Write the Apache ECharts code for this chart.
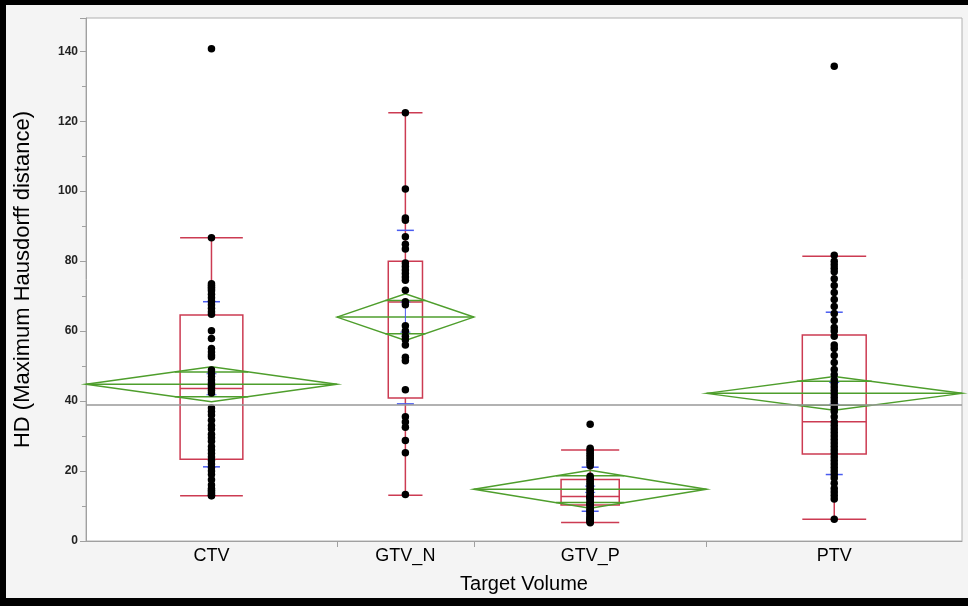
<!DOCTYPE html>
<html>
<head>
<meta charset="utf-8">
<script src="https://cdn.jsdelivr.net/npm/echarts@6/dist/echarts.min.js"></script>
<style>
  html, body { margin: 0; padding: 0; background: #f4f4f4; }
  #main { position: absolute; left: 0; top: 0; width: 968px; height: 606px; }
  #frame { position: absolute; left: 0; top: 0; width: 968px; height: 606px; box-sizing: border-box;
           border-left: 6px solid #000; border-top: 5px solid #000; border-bottom: 8px solid #000; pointer-events: none; }
</style>
</head>
<body>
<div id="main"></div>
<div id="frame"></div>
<script>
// groups (x axis width is proportional to group size, as JMP draws it)
var groups = ['CTV', 'GTV_N', 'GTV_P', 'PTV'];
var counts = [55, 30, 51, 56];

// raw points per group
var ctvValues = [140.7, 86.7, 73.5, 73, 72.5, 72, 71.5, 70.5, 69.5, 68.5, 67.5, 66.5, 65.5, 64.8, 60.1, 57.9,
  55, 54, 53.2, 52.6, 48.9, 48, 47, 46, 45.2, 44.5, 43.8, 43, 42.3, 38, 37, 36, 34.5, 33, 32, 30.5, 29.5,
  28.5, 27, 26, 25, 24, 23, 22, 21, 20, 19, 17.5, 16, 15, 14.5, 14, 13.5, 13, 12.9];
var gtvNValues = [122.4, 100.6, 92.3, 91.7, 87, 84.8, 83.5, 79.5, 78.5, 77.5, 76.5, 75.5, 74.5, 71.7, 68.4,
  67.5, 61.5, 60, 58.5, 57.5, 56, 52.5, 51.5, 43.2, 35.5, 34, 32.5, 28.7, 25.2, 13.3];
var gtvPValues = [33.4, 26.5, 26, 25.5, 25, 24.5, 24, 23.5, 23, 22.5, 22, 21.5, 18.5, 18, 17.5, 17, 16.5, 16,
  15.5, 15, 14.5, 14, 13.5, 13, 12.8, 12.6, 12.4, 12.2, 12, 11.5, 11, 10.8, 10.5, 10.3, 10, 9.5, 9, 8.8, 8.5,
  8, 7.8, 7.5, 7, 6.8, 6.5, 6.2, 6, 5.8, 5.6, 5.4, 5.2];
var ptvValues = [135.7, 81.7, 80, 79, 78, 77, 75, 73, 71, 69, 67, 65, 63, 61, 60, 58.5, 56, 55, 53, 51, 49,
  47.5, 46, 45, 44, 43, 42, 41, 40, 39, 38, 37, 35.5, 34, 33, 32, 31, 30, 29, 28, 27, 26, 25, 24, 23, 22, 21,
  20, 19, 18, 16.5, 15, 14, 13, 12, 6.2];
var groupValues = [ctvValues, gtvNValues, gtvPValues, ptvValues];

// summary stats
var boxStats = [           // [lower whisker, Q1, median, Q3, upper whisker]
  [12.9, 23.4, 43.6, 64.6, 86.7],
  [13.1, 40.9, 68.3, 80.0, 122.4],
  [5.3, 10.3, 12.7, 17.6, 26.0],
  [6.2, 24.9, 34.1, 58.9, 81.4]
];
var means = [44.8, 64.0, 14.8, 42.2];
var ciHalf = [5.0, 6.7, 5.4, 4.85];   // means diamond half height
var sdHalf = [23.6, 24.8, 6.3, 23.2];  // std dev lines
var seHalf = [3.0, 4.3, 0.9, 3.1];     // mean error bars
var grandMean = 38.9;
var yTicks = [0, 20, 40, 60, 80, 100, 120, 140];

// x positions from group sizes
var total = 0, starts = [], ends = [], centers = [];
counts.forEach(function (n) {
  starts.push(total);
  total += n;
  ends.push(total);
  centers.push(total - n / 2);
});

var statData = groups.map(function (g, i) {
  return [starts[i], ends[i], means[i], ciHalf[i], sdHalf[i], seHalf[i]].concat(boxStats[i]);
});

var dots = [];
groupValues.forEach(function (vals, i) {
  vals.forEach(function (v) { dots.push([centers[i], v]); });
});

var red = '#cc3b52', green = '#4e9e2c', blue = '#4a5cf0';

function line(x1, y1, x2, y2, color, w) {
  return { type: 'line', shape: { x1: x1, y1: y1, x2: x2, y2: y2 },
           style: { stroke: color, lineWidth: w || 1.5 } };
}

function renderStats(params, api) {
  var s = api.value(0), e = api.value(1), m = api.value(2), ci = api.value(3);
  var sd = api.value(4), se = api.value(5);
  var lo = api.value(6), q1 = api.value(7), med = api.value(8), q3 = api.value(9), hi = api.value(10);
  var c = (s + e) / 2;
  var L = api.coord([s, m]), R = api.coord([e, m]);
  var cx = api.coord([c, m])[0];
  var y = function (v) { return api.coord([c, v])[1]; };
  var w = R[0] - L[0];
  var bh = w / 8;
  var kids = [];
  // box plot
  kids.push({ type: 'rect', shape: { x: cx - bh, y: y(q3), width: 2 * bh, height: y(q1) - y(q3) },
              style: { fill: 'none', stroke: red, lineWidth: 1.5 } });
  kids.push(line(cx - bh, y(med), cx + bh, y(med), red));
  kids.push(line(cx, y(hi), cx, y(q3), red));
  kids.push(line(cx, y(q1), cx, y(lo), red));
  kids.push(line(cx - bh, y(hi), cx + bh, y(hi), red));
  kids.push(line(cx - bh, y(lo), cx + bh, y(lo), red));
  // means diamond
  kids.push({ type: 'polygon',
              shape: { points: [[L[0], L[1]], [cx, y(m + ci)], [R[0], R[1]], [cx, y(m - ci)]] },
              style: { fill: 'none', stroke: green, lineWidth: 1.5 } });
  kids.push(line(L[0], L[1], R[0], R[1], green));
  var k = Math.SQRT1_2, ow = (w / 2) * (1 - k);
  kids.push(line(cx - ow, y(m + ci * k), cx + ow, y(m + ci * k), green));
  kids.push(line(cx - ow, y(m - ci * k), cx + ow, y(m - ci * k), green));
  // std dev lines and mean error bars
  kids.push(line(cx - 8.5, y(m + sd), cx + 8.5, y(m + sd), blue));
  kids.push(line(cx - 8.5, y(m - sd), cx + 8.5, y(m - sd), blue));
  kids.push(line(cx, y(m + se), cx, y(m - se), blue, 1));
  kids.push(line(cx - 5, y(m + se), cx + 5, y(m + se), blue, 1));
  kids.push(line(cx - 5, y(m - se), cx + 5, y(m - se), blue, 1));
  return { type: 'group', children: kids };
}

var myChart = echarts.init(document.getElementById('main'));

var option = {
  backgroundColor: '#f4f4f4',
  animation: false,
  grid: {
    left: 86, right: 6, top: 18, bottom: 65,
    show: true, backgroundColor: '#fff', borderColor: '#b0b0b0', borderWidth: 1
  },
  xAxis: {
    type: 'value', min: 0, max: total,
    name: 'Target Volume', nameLocation: 'middle', nameGap: 33,
    nameTextStyle: { fontFamily: 'Liberation Sans', fontSize: 20, color: '#000' },
    axisLine: { show: true, lineStyle: { color: '#a0a0a0' } },
    axisTick: { show: true, customValues: ends.slice(0, -1), length: 6, lineStyle: { color: '#a0a0a0' } },
    axisLabel: {
      customValues: centers, margin: 6,
      fontFamily: 'Liberation Sans', fontSize: 18, color: '#000',
      formatter: function (v) { return groups[centers.indexOf(v)] || ''; }
    },
    splitLine: { show: false }
  },
  yAxis: {
    type: 'value', min: 0, max: 149.5, interval: 20,
    name: 'HD (Maximum Hausdorff distance)', nameLocation: 'middle', nameGap: 52,
    nameTextStyle: { fontFamily: 'Liberation Sans', fontSize: 22, color: '#000' },
    axisLine: { show: true, lineStyle: { color: '#a0a0a0' } },
    axisTick: { show: true, length: 6, lineStyle: { color: '#a0a0a0' } },
    minorTick: { show: true, splitNumber: 2, length: 4, lineStyle: { color: '#a0a0a0' } },
    axisLabel: {
      showMaxLabel: false, margin: 8,
      fontFamily: 'Liberation Sans', fontSize: 12, fontWeight: 'bold', color: '#222',
      formatter: function (v) { return yTicks.indexOf(v) >= 0 ? String(v) : ''; }
    },
    splitLine: { show: false }
  },
  series: [
    {
      type: 'custom',
      renderItem: renderStats,
      data: statData,
      z: 2,
      silent: true
    },
    {
      type: 'scatter',
      data: dots,
      symbolSize: 7.5,
      itemStyle: { color: '#000', opacity: 1 },
      z: 3,
      markLine: {
        silent: true, symbol: 'none', label: { show: false },
        lineStyle: { color: '#999', type: 'solid', width: 1.5 },
        data: [{ yAxis: grandMean }]
      }
    }
  ]
};

myChart.setOption(option);
</script>
</body>
</html>
